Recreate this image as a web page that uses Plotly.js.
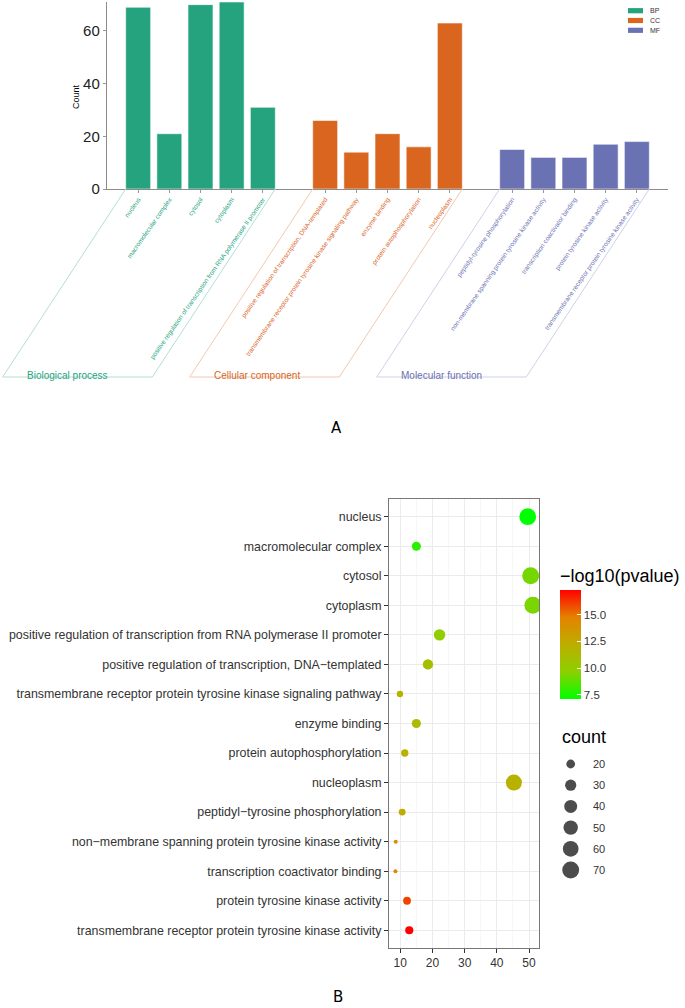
<!DOCTYPE html>
<html><head><meta charset="utf-8">
<script src="https://cdn.plot.ly/plotly-3.0.1.min.js"></script>
<style>html,body{margin:0;padding:0;background:#fff}#chart{width:685px;height:1008px}</style>
</head><body><div id="chart"></div>
<script>
// ---------- Panel A data ----------
const groupNames = ['BP', 'CC', 'MF'];
const groupTitles = ['Biological process', 'Cellular component', 'Molecular function'];
const groupColors = ['#25a37f', '#d9651f', '#6b72b3'];
const frameColors = ['#b3e0d2', '#f2c9ae', '#cfd1e8'];
const bpTerms = ['nucleus', 'macromolecular complex', 'cytosol', 'cytoplasm', 'positive regulation of transcription from RNA polymerase II promoter'];
const bpCounts = [69, 21, 70, 71, 31];
const ccTerms = ['positive regulation of transcription, DNA-templated', 'transmembrane receptor protein tyrosine kinase signaling pathway', 'enzyme binding', 'protein autophosphorylation', 'nucleoplasm'];
const ccCounts = [26, 14, 21, 16, 63];
const mfTerms = ['peptidyl-tyrosine phosphorylation', 'non-membrane spanning protein tyrosine kinase activity', 'transcription coactivator binding', 'protein tyrosine kinase activity', 'transmembrane receptor protein tyrosine kinase activity'];
const mfCounts = [15, 12, 12, 17, 18];
const countTicks = [0, 20, 40, 60];

// ---------- Panel B data ----------
const dotTerms = ['nucleus', 'macromolecular complex', 'cytosol', 'cytoplasm',
  'positive regulation of transcription from RNA polymerase II promoter',
  'positive regulation of transcription, DNA\u2212templated',
  'transmembrane receptor protein tyrosine kinase signaling pathway',
  'enzyme binding', 'protein autophosphorylation', 'nucleoplasm',
  'peptidyl\u2212tyrosine phosphorylation',
  'non\u2212membrane spanning protein tyrosine kinase activity',
  'transcription coactivator binding', 'protein tyrosine kinase activity',
  'transmembrane receptor protein tyrosine kinase activity'];
const dotX = [49.6, 15.0, 50.5, 51.2, 22.2, 18.6, 9.9, 15.0, 11.4, 45.3, 10.6, 8.6, 8.5, 12.1, 12.8];
const dotCount = [69, 21, 70, 71, 31, 26, 14, 21, 16, 63, 15, 12, 12, 17, 18];
const dotLogP = [7.1, 7.9, 9.2, 9.3, 9.8, 11.0, 11.8, 11.2, 12.0, 12.0, 12.3, 14.3, 14.4, 16.0, 17.3];
const xTicksB = [10, 20, 30, 40, 50];
const colorTicks = [7.5, 10, 12.5, 15];
const sizeLegendValues = [20, 30, 40, 50, 60, 70];

// ---------- geometry ----------
const W = 685, H = 1008;
const FONT = 'Liberation Sans, Arial, sans-serif';
const xDomA = [107 / W, 668 / W], xRangeA = [-1, 17];
const yDomA = [(H - 189) / H, (H - 2) / H], yRangeA = [0, 71];
const pxPerUnitA = (xDomA[1] - xDomA[0]) * W / (xRangeA[1] - xRangeA[0]);
const toPaperX = d => xDomA[0] + (d - xRangeA[0]) / (xRangeA[1] - xRangeA[0]) * (xDomA[1] - xDomA[0]);
const BAR_W = 0.8;
const FRAME_DX = -123, FRAME_DY = -188;

const groups = [[bpTerms, bpCounts], [ccTerms, ccCounts], [mfTerms, mfCounts]];
const traces = [];
const tickvals = [], ticktext = [];
const shapes = [], annotations = [];
groups.forEach(([terms, counts], g) => {
  const pos = terms.map((_, i) => g * (terms.length + 1) + i);
  traces.push({
    type: 'bar', name: groupNames[g], x: pos, y: counts, width: BAR_W,
    marker: { color: groupColors[g], line: { color: 'rgba(255,255,255,0.7)', width: 0.8 } },
    xaxis: 'x', yaxis: 'y', hoverinfo: 'skip', showlegend: false
  });
  pos.forEach((p, i) => { tickvals.push(p); ticktext.push('<span style="color:' + groupColors[g] + '">' + terms[i] + '</span>'); });
  const left = toPaperX(pos[0] - BAR_W / 2), right = toPaperX(pos[pos.length - 1] + BAR_W / 2);
  const widthPx = (right - left) * W;
  const common = { type: 'line', xref: 'paper', yref: 'paper', xsizemode: 'pixel', ysizemode: 'pixel', yanchor: yDomA[0],
    line: { color: frameColors[g], width: 1 }, layer: 'above' };
  shapes.push(Object.assign({}, common, { xanchor: left, x0: 0, x1: FRAME_DX, y0: 0, y1: FRAME_DY }));
  shapes.push(Object.assign({}, common, { xanchor: right, x0: 0, x1: FRAME_DX, y0: 0, y1: FRAME_DY }));
  shapes.push(Object.assign({}, common, { xanchor: left, x0: FRAME_DX, x1: FRAME_DX + widthPx, y0: FRAME_DY, y1: FRAME_DY }));
  annotations.push({ xref: 'paper', yref: 'paper', x: left, y: yDomA[0], xshift: FRAME_DX + 22, yshift: FRAME_DY + 2,
    xanchor: 'left', yanchor: 'middle', showarrow: false, text: groupTitles[g],
    font: { family: FONT, size: 10, color: groupColors[g] } });
  // custom legend key
  const ly = (H - (10.7 + g * 9.8)) / H;
  shapes.push({ type: 'rect', xref: 'paper', yref: 'paper', x0: 628 / W, x1: 643 / W, y0: ly - 2.6 / H, y1: ly + 2.6 / H,
    fillcolor: groupColors[g], line: { width: 0 } });
  annotations.push({ xref: 'paper', yref: 'paper', x: 648 / W, y: ly, xanchor: 'left', yanchor: 'middle', showarrow: false,
    text: groupNames[g], font: { family: FONT, size: 7, color: '#333' } });
});

// ---------- Panel B traces ----------
const cMin = Math.min(...dotCount), cMax = Math.max(...dotCount);
const D_MIN = 4, D_MAX = 17;
const sizeScale = c => D_MIN + (D_MAX - D_MIN) * Math.sqrt(Math.max(0, (c - cMin) / (cMax - cMin)));
const colorscale = [[0, '#00ff00'], [0.25, '#8dd000'], [0.5, '#bcae00'], [0.75, '#e48200'], [1, '#ff0000']];
traces.push({
  type: 'scatter', mode: 'markers', x: dotX, y: dotTerms, xaxis: 'x2', yaxis: 'y2',
  showlegend: false, hoverinfo: 'skip',
  marker: {
    size: dotCount.map(sizeScale), sizemode: 'diameter', color: dotLogP, colorscale: colorscale,
    cmin: Math.min(...dotLogP), cmax: Math.max(...dotLogP), line: { width: 0 }, opacity: 1,
    showscale: true,
    colorbar: {
      x: 560 / W, xanchor: 'left', y: (H - 699) / H, yanchor: 'bottom',
      len: 134, lenmode: 'pixels', thickness: 21, thicknessmode: 'pixels',
      outlinewidth: 0, xpad: 0, ypad: 0,
      tickvals: colorTicks, tickformat: '.1f', ticks: 'inside', tickcolor: '#ffffff', ticklen: 4,
      tickfont: { family: FONT, size: 11.5, color: '#333' },
      title: { text: '\u2212log10(pvalue)', side: 'top', font: { family: FONT, size: 18, color: '#000' } }
    }
  }
});
traces.push({
  type: 'scatter', mode: 'markers', x: sizeLegendValues.map(() => 0), y: sizeLegendValues,
  xaxis: 'x3', yaxis: 'y3', showlegend: false, hoverinfo: 'skip',
  marker: { size: sizeLegendValues.map(sizeScale), color: '#000', line: { width: 0 } }
});
sizeLegendValues.forEach(v => annotations.push({
  xref: 'paper', yref: 'y3', x: 591 / W, y: v, xanchor: 'left', yanchor: 'middle', showarrow: false,
  text: String(v), font: { family: FONT, size: 11, color: '#333' }
}));
annotations.push({ xref: 'paper', yref: 'paper', x: 560 / W, y: (H - 737) / H, xanchor: 'left', yanchor: 'middle',
  showarrow: false, text: 'count', font: { family: FONT, size: 18, color: '#000' } });
annotations.push({ xref: 'paper', yref: 'paper', x: 76 / W, y: (H - 97) / H, xanchor: 'center', yanchor: 'middle',
  textangle: -90, showarrow: false, text: 'Count', font: { family: FONT, size: 9, color: '#000' } });
annotations.push({ xref: 'paper', yref: 'paper', x: 336 / W, y: (H - 428) / H, xanchor: 'center', yanchor: 'middle',
  showarrow: false, text: 'A', font: { family: 'DejaVu Sans, sans-serif', size: 15, color: '#000' } });
annotations.push({ xref: 'paper', yref: 'paper', x: 338 / W, y: (H - 997) / H, xanchor: 'center', yanchor: 'middle',
  showarrow: false, text: 'B', font: { family: 'DejaVu Sans, sans-serif', size: 15, color: '#000' } });

const layout = {
  width: W, height: H, margin: { l: 0, r: 0, t: 0, b: 0 }, paper_bgcolor: '#fff', plot_bgcolor: 'rgba(0,0,0,0)',
  font: { family: FONT }, barmode: 'overlay', showlegend: false,
  xaxis: { domain: xDomA, range: xRangeA, anchor: 'y', tickvals: tickvals, ticktext: ticktext, tickangle: -55,
    tickfont: { family: FONT, size: 6.5 }, ticks: 'outside', ticklen: 3, tickcolor: '#999', showline: true,
    linecolor: '#8c8c8c', linewidth: 1.2, showgrid: false, zeroline: false },
  yaxis: { domain: yDomA, range: yRangeA, anchor: 'x', tickvals: countTicks, tickfont: { family: FONT, size: 15, color: '#222' },
    ticks: 'outside', ticklen: 3, tickcolor: '#999', showline: true, linecolor: '#8c8c8c', linewidth: 1.2,
    showgrid: false, zeroline: false },
  xaxis2: { domain: [389 / W, 539 / W], range: [6.5, 53.1], anchor: 'y2', tickvals: xTicksB,
    tickfont: { family: FONT, size: 12, color: '#333' }, ticks: 'outside', ticklen: 4, tickcolor: '#333',
    showline: true, mirror: true, linecolor: '#777', linewidth: 1, showgrid: true, gridcolor: '#ebebeb', gridwidth: 1,
    minor: { dtick: 5, tick0: 0, showgrid: true, gridcolor: '#f2f2f2', gridwidth: 0.6 }, zeroline: false },
  yaxis2: { domain: [(H - 948) / H, (H - 499) / H], type: 'category', categoryorder: 'array', categoryarray: dotTerms,
    range: [dotTerms.length - 0.4, -0.6], anchor: 'x2', tickfont: { family: FONT, size: 12.4, color: '#333' },
    ticks: 'outside', ticklen: 4, tickcolor: '#333', showline: true, mirror: true, linecolor: '#777', linewidth: 1,
    showgrid: true, gridcolor: '#ebebeb', gridwidth: 1, zeroline: false },
  xaxis3: { domain: [560 / W, 600 / W], range: [-0.2675, 0.7325], anchor: 'y3', visible: false },
  yaxis3: { domain: [(H - 880.6) / H, (H - 753.4) / H], range: [75, 15], anchor: 'x3', visible: false },
  shapes: shapes, annotations: annotations
};
Plotly.newPlot('chart', traces, layout, { staticPlot: true, displayModeBar: false });
</script></body></html>
